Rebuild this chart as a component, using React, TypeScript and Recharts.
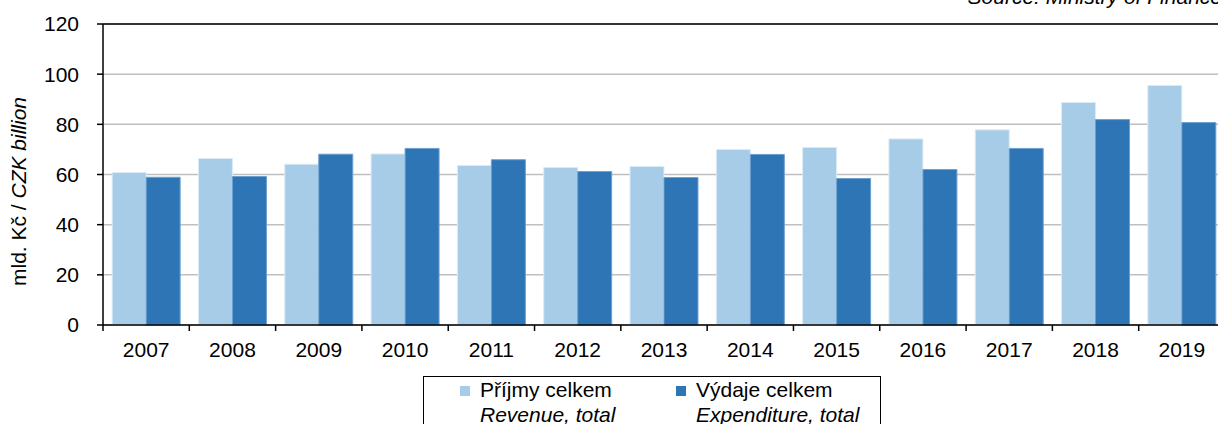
import React from 'react';
import { BarChart, Bar, XAxis, YAxis, CartesianGrid, ReferenceLine } from 'recharts';

const years = ['2007', '2008', '2009', '2010', '2011', '2012', '2013', '2014', '2015', '2016', '2017', '2018', '2019'];
const revenue = [60.8, 66.4, 64.1, 68.2, 63.6, 62.8, 63.2, 70.0, 70.8, 74.2, 77.8, 88.7, 95.5];
const expenditure = [58.9, 59.2, 68.1, 70.4, 65.9, 61.2, 58.8, 68.0, 58.4, 62.0, 70.4, 81.9, 80.7];
const yTicks = [0, 20, 40, 60, 80, 100, 120];
const seriesNames = ['Příjmy celkem', 'Výdaje celkem'];
const seriesNamesEn = ['Revenue, total', 'Expenditure, total'];
const sourceText = 'Source: Ministry of Finance';

const COLORS = ['#a7cce7', '#2e75b6'];
const FONT = '"Liberation Sans", Arial, sans-serif';

const data = years.map((year, i) => ({ year, revenue: revenue[i], expenditure: expenditure[i] }));

const CHART_W = 1240;
const MARGIN = { top: 24, right: 15, left: 0, bottom: 59 };
const Y_W = 103;
const BAND = (CHART_W - MARGIN.right - Y_W) / years.length;

function XTick(props: any) {
  const { x, y, payload } = props;
  const bx = x - BAND / 2;
  return (
    <g>
      <line x1={bx} x2={bx} y1={y} y2={y + 6} stroke="#000" strokeWidth={1.5} />
      <text x={x} y={y + 17} dy="0.71em" textAnchor="middle" fontSize={21} fontFamily={FONT} fill="#000">
        {payload.value}
      </text>
    </g>
  );
}

function YLabel(props: any) {
  const vb = props.viewBox || { x: 0, y: 24, height: 301 };
  const cx = vb.x + 18;
  const cy = vb.y + vb.height / 2 + 17;
  return (
    <text
      x={cx}
      y={cy}
      transform={`rotate(-90 ${cx} ${cy})`}
      textAnchor="middle"
      dominantBaseline="central"
      fontSize={21}
      fontFamily={FONT}
      fill="#000"
    >
      <tspan>mld. Kč / </tspan>
      <tspan fontStyle="italic">CZK billion</tspan>
    </text>
  );
}

export default function App() {
  return (
    <div style={{ position: 'absolute', left: 0, top: 0, width: 1218, height: 424, overflow: 'hidden', background: '#fff' }}>
      <BarChart
        width={CHART_W}
        height={424}
        data={data}
        margin={MARGIN}
        barCategoryGap="10.6%"
        barGap={0}
      >
        <CartesianGrid vertical={false} stroke="#bfbfbf" strokeWidth={1.5} />
        <XAxis
          dataKey="year"
          tick={<XTick />}
          tickLine={false}
          tickSize={0}
          tickMargin={0}
          interval={0}
          height={40}
          axisLine={{ stroke: '#000', strokeWidth: 1.5 }}
        />
        <YAxis
          domain={[0, 120]}
          ticks={yTicks}
          width={Y_W}
          tickSize={6}
          tickMargin={18}
          interval={0}
          tick={{ fontSize: 21, fontFamily: FONT, fill: '#000' }}
          tickLine={{ stroke: '#000', strokeWidth: 1.5 }}
          axisLine={{ stroke: '#000', strokeWidth: 1.5 }}
          label={<YLabel />}
        />
        <ReferenceLine y={120} stroke="#000" strokeWidth={1.5} />
        <Bar dataKey="revenue" name={seriesNames[0]} fill={COLORS[0]} stroke="#dcebf6" strokeWidth={1} isAnimationActive={false} />
        <Bar dataKey="expenditure" name={seriesNames[1]} fill={COLORS[1]} stroke="#6ea0d0" strokeWidth={1} isAnimationActive={false} />
      </BarChart>

      <div
        style={{
          position: 'absolute',
          right: -4,
          top: -15,
          fontFamily: FONT,
          fontSize: 21,
          fontStyle: 'italic',
          whiteSpace: 'nowrap',
          lineHeight: '24px',
        }}
      >
        {sourceText}
      </div>

      <div
        style={{
          position: 'absolute',
          left: 423,
          top: 376,
          width: 456,
          height: 70,
          border: '1px solid #000',
          fontFamily: FONT,
          fontSize: 21,
          color: '#000',
        }}
      >
        {seriesNames.map((name, i) => (
          <div key={name} style={{ position: 'absolute', left: i === 0 ? 36 : 252, top: 0 }}>
            <div style={{ position: 'absolute', left: 0, top: 9, width: 10, height: 10, background: COLORS[i] }} />
            <div style={{ position: 'absolute', left: 20, top: 0, whiteSpace: 'nowrap', lineHeight: '26px' }}>{name}</div>
            <div style={{ position: 'absolute', left: 20, top: 25, whiteSpace: 'nowrap', lineHeight: '26px', fontStyle: 'italic' }}>
              {seriesNamesEn[i]}
            </div>
          </div>
        ))}
      </div>
    </div>
  );
}
